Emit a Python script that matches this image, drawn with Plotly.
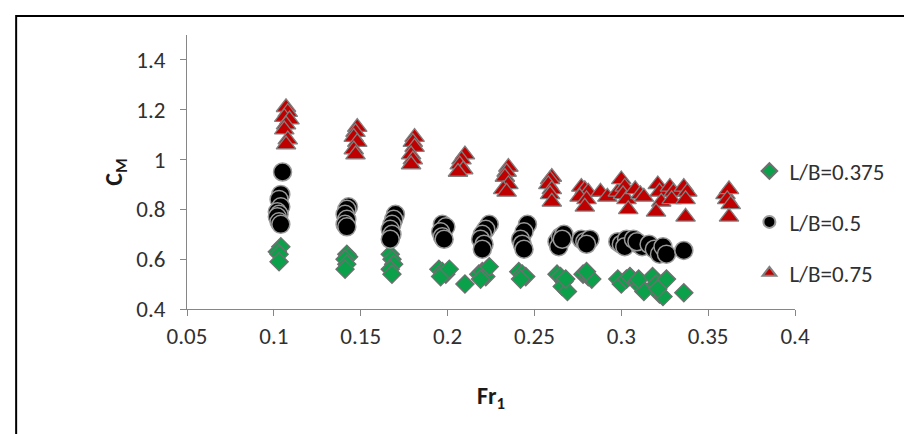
import plotly.graph_objects as go

# L/B = 0.375 (green diamonds)
fr_375 = [0.104, 0.102, 0.103, 0.103,
          0.142, 0.143, 0.141, 0.142, 0.141,
          0.167, 0.168, 0.169, 0.167, 0.168,
          0.195, 0.197, 0.199, 0.196, 0.201,
          0.210,
          0.218, 0.220, 0.222, 0.224, 0.219,
          0.241, 0.243, 0.245, 0.242,
          0.263, 0.265, 0.267, 0.266, 0.269, 0.268,
          0.278, 0.281, 0.283, 0.280,
          0.298, 0.300, 0.303, 0.305,
          0.309, 0.311, 0.313, 0.310,
          0.318, 0.320, 0.322, 0.324, 0.326, 0.321,
          0.336]
cm_375 = [0.65, 0.63, 0.62, 0.59,
          0.62, 0.61, 0.60, 0.58, 0.56,
          0.62, 0.60, 0.58, 0.56, 0.54,
          0.56, 0.55, 0.54, 0.53, 0.56,
          0.50,
          0.54, 0.55, 0.53, 0.57, 0.52,
          0.55, 0.54, 0.53, 0.52,
          0.54, 0.53, 0.51, 0.49, 0.47, 0.52,
          0.54, 0.53, 0.52, 0.55,
          0.52, 0.50, 0.52, 0.53,
          0.51, 0.49, 0.47, 0.52,
          0.53, 0.50, 0.46, 0.45, 0.52, 0.48,
          0.465]

# L/B = 0.5 (black circles)
fr_50 = [0.105, 0.104, 0.103, 0.104, 0.102, 0.103, 0.102, 0.103, 0.104,
         0.143, 0.142, 0.141, 0.142, 0.141, 0.142,
         0.170, 0.169, 0.168, 0.167, 0.168, 0.167,
         0.197, 0.199, 0.196, 0.197, 0.198,
         0.224, 0.222, 0.220, 0.219, 0.221, 0.220,
         0.246, 0.244, 0.242, 0.243, 0.244,
         0.263, 0.265, 0.267, 0.264, 0.266,
         0.277, 0.279, 0.282, 0.280,
         0.298, 0.300, 0.303, 0.302,
         0.307, 0.310, 0.312, 0.309,
         0.316, 0.319, 0.322, 0.324, 0.326,
         0.336]
cm_50 = [0.95, 0.86, 0.84, 0.81, 0.79, 0.78, 0.77, 0.75, 0.74,
         0.81, 0.80, 0.78, 0.76, 0.74, 0.73,
         0.78, 0.76, 0.74, 0.72, 0.70, 0.68,
         0.74, 0.73, 0.71, 0.69, 0.68,
         0.74, 0.72, 0.70, 0.68, 0.66, 0.64,
         0.74, 0.71, 0.68, 0.66, 0.64,
         0.67, 0.69, 0.70, 0.65, 0.68,
         0.68, 0.67, 0.68, 0.66,
         0.67, 0.66, 0.68, 0.65,
         0.68, 0.66, 0.65, 0.67,
         0.66, 0.64, 0.62, 0.65, 0.62,
         0.635]

# L/B = 0.75 (red triangles)
fr_75 = [0.107, 0.108, 0.106, 0.109, 0.107, 0.106, 0.108, 0.107,
         0.148, 0.147, 0.146, 0.148, 0.146, 0.147,
         0.181, 0.180, 0.181, 0.179, 0.180, 0.179,
         0.210, 0.208, 0.207, 0.209, 0.206,
         0.235, 0.234, 0.233, 0.235, 0.232, 0.234,
         0.260, 0.259, 0.258, 0.260, 0.259, 0.260,
         0.277, 0.279, 0.281, 0.276, 0.280, 0.279,
         0.288, 0.292,
         0.298, 0.300, 0.302, 0.301, 0.303, 0.304,
         0.308, 0.311, 0.313,
         0.321, 0.322, 0.323, 0.320,
         0.328, 0.330, 0.329,
         0.336, 0.338, 0.337, 0.337,
         0.360, 0.362, 0.361, 0.363, 0.362]
cm_75 = [1.21, 1.19, 1.17, 1.16, 1.14, 1.12, 1.08, 1.06,
         1.13, 1.11, 1.09, 1.07, 1.04, 1.02,
         1.09, 1.07, 1.05, 1.02, 1.00, 0.98,
         1.02, 1.00, 0.98, 0.96, 0.95,
         0.97, 0.95, 0.93, 0.90, 0.88, 0.87,
         0.93, 0.92, 0.90, 0.88, 0.86, 0.83,
         0.89, 0.88, 0.87, 0.85, 0.84, 0.81,
         0.87, 0.85,
         0.87, 0.92, 0.89, 0.86, 0.84, 0.80,
         0.88, 0.86, 0.85,
         0.90, 0.87, 0.83, 0.79,
         0.89, 0.87, 0.84,
         0.89, 0.87, 0.84, 0.77,
         0.86, 0.88, 0.84, 0.82, 0.77]

x_ticks = [0.05, 0.1, 0.15, 0.2, 0.25, 0.3, 0.35, 0.4]
x_tick_labels = ["0.05", "0.1", "0.15", "0.2", "0.25", "0.3", "0.35", "0.4"]
y_ticks = [0.4, 0.6, 0.8, 1.0, 1.2, 1.4]
y_tick_labels = ["0.4", "0.6", "0.8", "1", "1.2", "1.4"]

FONT = "Carlito, 'Liberation Sans Narrow', 'Arial Narrow', 'Liberation Sans', Arial, sans-serif"
TICK_SIZE = 23
TEXT_COLOR = "#303030"

fig = go.Figure()
fig.add_trace(go.Scatter(x=fr_375, y=cm_375, mode="markers", name="L/B=0.375",
                         legendgroup="a",
                         marker=dict(symbol="diamond", size=14, color="#0BA14B",
                                     line=dict(color="#6f6f6f", width=1.3))))
fig.add_trace(go.Scatter(x=fr_50, y=cm_50, mode="markers", name="L/B=0.5",
                         legendgroup="b",
                         marker=dict(symbol="circle", size=18, color="#000000",
                                     line=dict(color="#9a9a9a", width=1.5))))
fig.add_trace(go.Scatter(x=fr_75, y=cm_75, mode="markers", name="L/B=0.75",
                         legendgroup="c",
                         marker=dict(symbol="triangle-up", size=17, color="#C00000",
                                     line=dict(color="#808080", width=1.3))))

fig.update_layout(
    width=912, height=434,
    margin=dict(l=179, r=125, t=27, b=133),
    paper_bgcolor="white", plot_bgcolor="white",
    font=dict(family=FONT, size=TICK_SIZE, color=TEXT_COLOR),
    showlegend=True,
    legend=dict(x=0.925, y=0.582, xanchor="left", yanchor="top",
                traceorder="grouped", tracegroupgap=18,
                font=dict(family=FONT, size=TICK_SIZE, color=TEXT_COLOR),
                itemsizing="constant", bgcolor="rgba(0,0,0,0)"),
    xaxis=dict(range=[0.05, 0.4], tickvals=x_ticks, ticktext=x_tick_labels,
               showgrid=False, zeroline=False, showline=True, linecolor="#868686",
               linewidth=1, ticks="outside", ticklen=6, tickcolor="#868686",
               ticklabelstandoff=0,
               tickfont=dict(family=FONT, size=TICK_SIZE, color=TEXT_COLOR),
               title=dict(text="<b>Fr<sub>1</sub></b>", standoff=38,
                          font=dict(family=FONT, size=24, color="#1a1a1a"))),
    yaxis=dict(range=[0.4, 1.5], tickvals=y_ticks, ticktext=y_tick_labels,
               showgrid=False, zeroline=False, showline=True, linecolor="#868686",
               linewidth=1, ticks="outside", ticklen=6, tickcolor="#868686",
               ticklabelstandoff=10,
               tickfont=dict(family=FONT, size=TICK_SIZE, color=TEXT_COLOR),
               title=dict(text="<b>C<sub>M</sub></b>", standoff=6,
                          font=dict(family=FONT, size=24, color="#1a1a1a"))),
    shapes=[dict(type="rect", xref="paper", yref="paper",
                 x0=-0.281, x1=1.194, y0=-0.7, y1=1.069,
                 line=dict(color="black", width=2), fillcolor="rgba(0,0,0,0)")],
)

fig.write_html("out.html")
